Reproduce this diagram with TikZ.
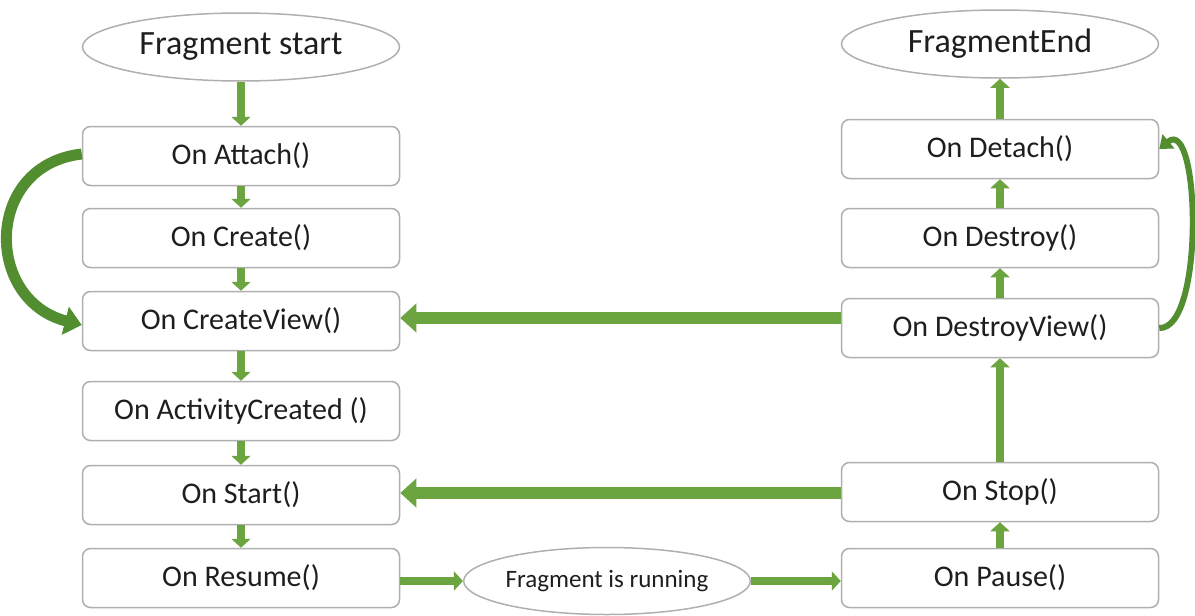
\documentclass[tikz,border=0pt]{standalone}
\usepackage{fontspec}
\setmainfont{Carlito}
\usepackage{tikz}
\usetikzlibrary{arrows.meta,shapes.geometric}
\definecolor{arrowGreen}{RGB}{108,164,64}
\definecolor{curveGreen}{RGB}{82,142,48}
\definecolor{frameGray}{RGB}{175,175,175}
\definecolor{textGray}{RGB}{30,30,30}
\tikzset{
box/.style = {rectangle, rounded corners=8pt, draw=frameGray, line width=1.5pt,
              minimum width=#1, minimum height=59pt, inner sep=0pt,
              text=textGray, font=\fontsize{30}{36}\selectfont},
box/.default = 317pt % width of the step boxes
}
\tikzset{
term/.style = {ellipse, draw=frameGray, line width=1.5pt, minimum width=#1,
               minimum height=68pt, inner sep=0pt,
               text=textGray, font=\fontsize{34}{40}\selectfont},
term/.default = 317pt
}
\tikzset{
flow/.style = {draw=arrowGreen, line width=8pt, -{Triangle[width=19pt,length=9pt]}},
bigflow/.style = {draw=arrowGreen, line width=12pt, -{Triangle[width=28pt,length=16pt]}},
loopflow/.style = {draw=curveGreen, line width=#1}
}

\begin{document}
\begin{tikzpicture}[x=1pt,y=-1pt]
    \useasboundingbox (0,0) rectangle (1195,616);
    % left column
    \node[term] (termStart) at (241,47) {Fragment start};
    \node[box] (boxAttach) at (241,156) {On Attach()};
    \node[box] (boxCreate) at (241,238) {On Create()};
    \node[box] (boxCreateView) at (241,321) {On CreateView()};
    \node[box] (boxActivity) at (241,411) {On ActivityCreated ()};
    \node[box] (boxStart) at (241,495) {On Start()};
    \node[box] (boxResume) at (241,578) {On Resume()};
    % right column
    \node[term] (termEnd) at (1000,44) {FragmentEnd};
    \node[box] (boxDetach) at (1000,149) {On Detach()};
    \node[box] (boxDestroy) at (1000,238) {On Destroy()};
    \node[box] (boxDestroyView) at (1000,328) {On DestroyView()};
    \node[box] (boxStop) at (1000,492) {On Stop()};
    \node[box] (boxPause) at (1000,578) {On Pause()};
    \node[term=285pt, minimum height=67pt, font=\fontsize{25}{30}\selectfont] (termRun) at (607,581) {Fragment is running};

    \draw[flow] (termStart) -- (boxAttach);
    \draw[flow] (boxAttach) -- (boxCreate);
    \draw[flow] (boxCreate) -- (boxCreateView);
    \draw[flow] (boxCreateView) -- (boxActivity);
    \draw[flow] (boxActivity) -- (boxStart);
    \draw[flow] (boxStart) -- (boxResume);
    \draw[flow] (boxResume.east |- termRun) -- (termRun);
    \draw[flow] (termRun) -- (boxPause.west |- termRun);

    \draw[flow] (boxPause) -- (boxStop);
    \draw[flow] (boxStop) -- (boxDestroyView);
    \draw[flow] (boxDestroyView) -- (boxDestroy);
    \draw[flow] (boxDestroy) -- (boxDetach);
    \draw[flow] (boxDetach) -- (termEnd);

    \draw[bigflow] (boxDestroyView.west |- 0,318) -- (boxCreateView.east |- 0,318);
    \draw[bigflow] (boxStop.west |- 0,493) -- (boxStart.east |- 0,493);

    \draw[loopflow=11pt, -{Triangle[width=28pt,length=17pt]}] ([yshift=2pt]boxAttach.west)
        .. controls (-16,165) and (-16,300) .. ([yshift=-4pt]boxCreateView.west);
    \draw[loopflow=6pt, -{Triangle[width=18pt,length=12pt]}] (boxDestroyView.east)
        .. controls (1205,330) and (1200,115) .. (boxDetach.east);
\end{tikzpicture}
\end{document}
